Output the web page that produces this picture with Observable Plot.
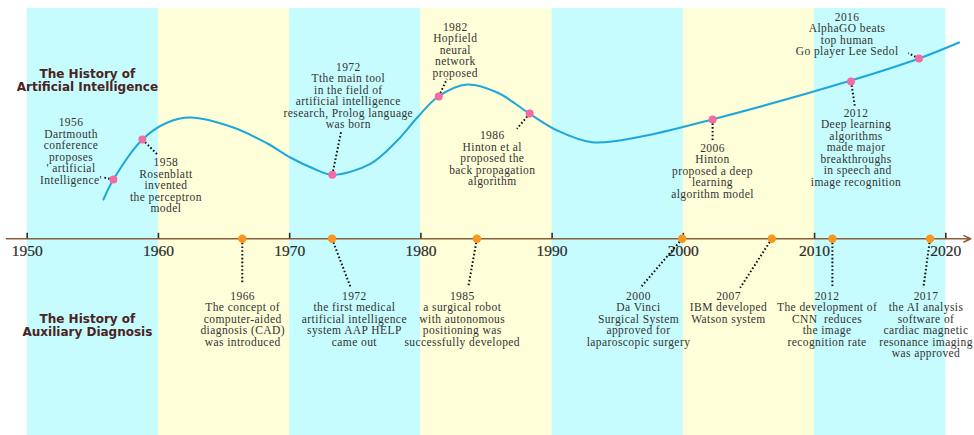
<!DOCTYPE html>
<html>
<head>
<meta charset="utf-8">
<script src="https://cdn.jsdelivr.net/npm/d3@7"></script>
<script src="https://cdn.jsdelivr.net/npm/@observablehq/plot@0.6"></script>
<style>
  html, body { margin: 0; padding: 0; background: #fff; }
  #chart svg { display: block; }
</style>
</head>
<body>
<div id="chart"></div>
<script>
// ---------- data ----------
const decades = [1950, 1960, 1970, 1980, 1990, 2000, 2010, 2020];
const tickLabels = ["1950", "1960", "1970", "1980", "1990", "2000", "2010", "2020"];
const bandStarts = [1950, 1960, 1970, 1980, 1990, 2000, 2010];

// AI history curve (year, level above the time axis)
const curveYear  = [1955.81, 1956.57, 1958.78, 1960.69, 1962.44, 1965.71, 1968.30, 1970.05, 1971.81, 1973.25,
                    1976.15, 1978.20, 1979.73, 1981.33, 1983.53, 1985.82, 1988.26, 1990.39, 1993.05, 1996.71,
                    2002.19, 2012.78, 2017.96, 2021.01];
const curveLevel = [3.93, 5.93, 9.93, 11.63, 12.13, 11.13, 9.53, 8.13, 7.03, 6.40,
                    7.50, 9.83, 12.13, 14.23, 15.43, 14.63, 12.53, 10.83, 9.66, 10.20,
                    11.93, 15.83, 18.03, 19.63];

// AI milestones
const aiYears = ["1956", "1958", "1972", "1982", "1986", "2006", "2012", "2016"];
const aiText = [
  "Dartmouth\nconference\nproposes\n' artificial\nIntelligence'",
  "Rosenblatt\ninvented\nthe perceptron\nmodel",
  "Tthe main tool\nin the field of\nartificial intelligence\nresearch, Prolog language\nwas born",
  "Hopfield\nneural\nnetwork\nproposed",
  "Hinton et al\nproposed the\nback propagation\nalgorithm",
  "Hinton\nproposed a deep\nlearning\nalgorithm model",
  "Deep learning\nalgorithms\nmade major\nbreakthroughs\n in speech and\nimage recognition",
  "AlphaGO beats\ntop human\nGo player Lee Sedol"
];
const aiDotX       = [1956.57, 1958.78, 1973.25, 1981.36, 1988.29, 2002.23, 2012.78, 2017.96];
const aiDotLevel   = [5.93, 9.93, 6.40, 14.23, 12.53, 11.93, 15.73, 18.03];
const aiLabelX     = [1953.34, 1960.57, 1974.47, 1982.62, 1985.44, 2002.22, 2013.16, 2012.48];
const aiLabelLevel = [12.05, 8.05, 17.61, 21.61, 10.78, 9.51, 13.01, 22.61];
const aiLeadX      = [1955.84, 1959.92, 1973.94, 1981.99, 1987.32, 2002.23, 2013.08, 2017.14];
const aiLeadLevel  = [6.13, 8.43, 10.83, 16.0, 11.0, 9.73, 13.16, 18.56];

// Auxiliary diagnosis milestones
const dxYears = ["1966", "1972", "1985", "2000", "2007", "2012", "2017"];
const dxText = [
  "The concept of\ncomputer-aided\ndiagnosis (CAD)\nwas introduced",
  "the first medical\nartificial intelligence\nsystem AAP HELP\ncame out",
  "a surgical robot\nwith autonomous\npositioning was\nsuccessfully developed",
  "Da Vinci\nSurgical System\napproved for\nlaparoscopic surgery",
  "IBM developed\nWatson system",
  "The development of\nCNN  reduces\nthe image\nrecognition rate",
  "the AI analysis\nsoftware of\ncardiac magnetic\nresonance imaging\nwas approved"
];
const dxDotX      = [1966.39, 1973.23, 1984.27, 1999.91, 2006.74, 2011.36, 2018.80];
const dxLabelX    = [1966.42, 1974.93, 1983.15, 1996.58, 2003.44, 2010.95, 2018.49];
const dxLabelLevel = [-5.29, -5.29, -5.29, -5.29, -5.29, -5.29, -5.29];
const dxLeadX     = [1966.39, 1974.62, 1983.63, 1996.71, 2004.33, 2011.36, 2018.29];
const dxLeadLevel = [-4.57, -4.77, -4.67, -4.92, -4.90, -4.87, -4.90];

const titles = ["The History of\nArtificial Intelligence", "The History of\nAuxiliary Diagnosis"];
const titleX = [1954.59, 1954.59];
const titleLevel = [16.93, -7.57];

// ---------- tables ----------
const curve = curveYear.map((x, i) => ({x, y: curveLevel[i]}));
const bands = bandStarts.map((s, i) => ({x1: s, x2: s + 10, k: i % 2}));
const ai = aiYears.map((yr, i) => ({
  t: yr + "\n" + aiText[i], dx: aiDotX[i], dy: aiDotLevel[i],
  lx: aiLabelX[i], ly: aiLabelLevel[i], ex: aiLeadX[i], ey: aiLeadLevel[i]
}));
const dx = dxYears.map((yr, i) => ({
  t: yr + "\n" + dxText[i], dx: dxDotX[i], dy: 0,
  lx: dxLabelX[i], ly: dxLabelLevel[i], ex: dxLeadX[i], ey: dxLeadLevel[i]
}));
const ticks = decades.map((d, i) => ({d, label: tickLabels[i]}));
const titleRows = titles.map((t, i) => ({t, x: titleX[i], y: titleLevel[i]}));

const serif = "'Liberation Serif', 'Times New Roman', serif";
const textColor = "#333333";
const annFont = 11.5;
const annLine = 1.0;

const chart = Plot.plot({
  width: 974,
  height: 435,
  margin: 0,
  x: {domain: [1950, 2020], range: [26.7, 945.3], axis: null},
  y: {domain: [-20, 23.83], range: [438.3, 0], axis: null},
  style: {background: "#ffffff", overflow: "visible"},
  marks: [
    Plot.rect(bands, {x1: "x1", x2: "x2", y1: -20, y2: 23.03,
      fill: d => d.k === 0 ? "#c6fcfd" : "#fefed8"}),
    // time axis
    Plot.arrow([0], {x1: 1948.42, x2: 2021.9, y1: 0, y2: 0,
      stroke: "#8b5e3c", strokeWidth: 1.6, headLength: 7, headAngle: 50}),
    Plot.ruleX(ticks, {x: "d", y1: 0, y2: 0.55, stroke: "#3a2a20", strokeWidth: 1.6}),
    Plot.text(ticks, {x: "d", y: 0, dy: 12.4, text: "label", fontSize: 15.5,
      fontFamily: serif, fill: "#2a2a2a", stroke: "#2a2a2a", strokeWidth: 0.2}),
    // AI curve
    Plot.line(curve, {x: "x", y: "y", curve: "catmull-rom", stroke: "#1fa6db", strokeWidth: 2}),
    // leaders
    Plot.link(ai, {x1: "dx", y1: "dy", x2: "ex", y2: "ey", stroke: "#111",
      strokeWidth: 2, strokeDasharray: "1.6,2.2"}),
    Plot.link(dx, {x1: "dx", y1: "dy", x2: "ex", y2: "ey", stroke: "#111",
      strokeWidth: 2, strokeDasharray: "1.6,2.2"}),
    // dots
    Plot.dot(ai, {x: "dx", y: "dy", r: 4, fill: "#f46aa2", stroke: "none"}),
    Plot.dot(dx, {x: "dx", y: "dy", r: 4.2, fill: "#f8961e", stroke: "none"}),
    // labels
    Plot.text(ai, {x: "lx", y: "ly", text: "t", lineAnchor: "top", fontSize: annFont,
      lineHeight: annLine, fontFamily: serif, fill: textColor}),
    Plot.text(dx, {x: "lx", y: "ly", text: "t", lineAnchor: "top", fontSize: annFont,
      lineHeight: annLine, fontFamily: serif, fill: textColor}),
    // titles
    Plot.text(titleRows, {x: "x", y: "y", text: "t", lineAnchor: "top", fontSize: 12,
      lineHeight: 1.03, fontWeight: "bold", fontFamily: "'DejaVu Sans', Verdana, sans-serif",
      fill: "#4a2323"})
  ]
});
// widen the annotation lettering slightly, as in the reference
d3.select(chart).selectAll("g").filter(function () {
  return this.getAttribute("font-size") === String(annFont);
}).attr("letter-spacing", 0.42);
document.getElementById("chart").appendChild(chart);
</script>
</body>
</html>
